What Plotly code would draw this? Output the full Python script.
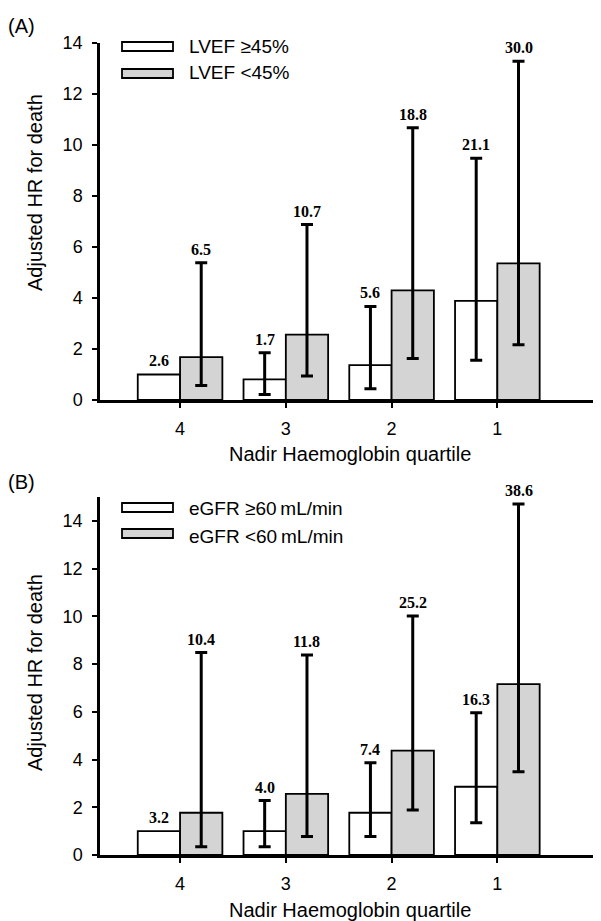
import plotly.graph_objects as go

W, H = 601, 921
PAGE_MARGIN = 8  # default <body> margin of the written page
FW, FH = W - PAGE_MARGIN, H - PAGE_MARGIN

quartiles = ["4", "3", "2", "1"]

# Panel A: LVEF
a_names = ["LVEF \u226545%", "LVEF <45%"]
a_hr_hi = [1.0, 0.81, 1.37, 3.89]
a_lo_hi = [None, 0.22, 0.44, 1.56]
a_up_hi = [None, 1.85, 3.67, 9.48]
a_lab_hi = ["2.6", "1.7", "5.6", "21.1"]
a_hr_lo = [1.68, 2.56, 4.30, 5.36]
a_lo_lo = [0.57, 0.94, 1.63, 2.17]
a_up_lo = [5.38, 6.88, 10.68, 13.28]
a_lab_lo = ["6.5", "10.7", "18.8", "30.0"]

# Panel B: eGFR
b_names = ["eGFR \u226560\u2009mL/min", "eGFR <60\u2009mL/min"]
b_hr_hi = [1.0, 1.0, 1.77, 2.86]
b_lo_hi = [None, 0.35, 0.77, 1.35]
b_up_hi = [None, 2.28, 3.87, 5.96]
b_lab_hi = ["3.2", "4.0", "7.4", "16.3"]
b_hr_lo = [1.77, 2.56, 4.37, 7.16]
b_lo_lo = [0.35, 0.77, 1.89, 3.49]
b_up_lo = [8.48, 8.38, 10.01, 14.71]
b_lab_lo = ["10.4", "11.8", "25.2", "38.6"]

y_ticks_a = [0, 2, 4, 6, 8, 10, 12, 14]
y_ticks_b = [0, 2, 4, 6, 8, 10, 12, 14]

x_title = "Nadir Haemoglobin quartile"
y_title = "Adjusted HR for death"

SANS = "Liberation Sans, Arial, sans-serif"
SERIF = "Liberation Serif, Times New Roman, serif"
GRAY = "#d4d4d4"
BARGAP = 0.2
OFF = (1 - BARGAP) / 4  # centre offset of each bar in a group of two


def px_x(p):
    return (p - PAGE_MARGIN) / FW


def px_y(p):
    return 1 - (p - PAGE_MARGIN) / FH


def err(vals, lo, up):
    # "NaN" (not null) makes plotly.js skip the error bar for that point
    plus = ["NaN" if u is None else u - v for v, u in zip(vals, up)]
    minus = ["NaN" if l is None else v - l for v, l in zip(vals, lo)]
    return dict(type="data", symmetric=False, array=plus, arrayminus=minus,
                color="black", thickness=3, width=6)


fig = go.Figure()
annotations = []
shapes = []

panels = [
    ("x", "y", a_names, a_hr_hi, a_lo_hi, a_up_hi, a_lab_hi,
     a_hr_lo, a_lo_lo, a_up_lo, a_lab_lo),
    ("x2", "y2", b_names, b_hr_hi, b_lo_hi, b_up_hi, b_lab_hi,
     b_hr_lo, b_lo_lo, b_up_lo, b_lab_lo),
]

for (xa, ya, names, hr1, lo1, up1, lab1, hr2, lo2, up2, lab2) in panels:
    fig.add_trace(go.Bar(x=quartiles, y=hr1, name=names[0], xaxis=xa, yaxis=ya,
                         marker=dict(color="white", line=dict(color="black", width=1.8)),
                         error_y=err(hr1, lo1, up1), showlegend=False))
    fig.add_trace(go.Bar(x=quartiles, y=hr2, name=names[1], xaxis=xa, yaxis=ya,
                         marker=dict(color=GRAY, line=dict(color="black", width=1.8)),
                         error_y=err(hr2, lo2, up2), showlegend=False))
    for i in range(len(quartiles)):
        for vals, up, labs, sgn in ((hr1, up1, lab1, -1), (hr2, up2, lab2, 1)):
            top = up[i] if up[i] is not None else vals[i]
            annotations.append(dict(
                x=i + sgn * OFF, y=top, xref=xa, yref=ya, text=labs[i],
                showarrow=False, xanchor="center", yanchor="bottom", yshift=3,
                font=dict(family=SERIF, size=16, color="black", weight="bold")))

axis_common = dict(showline=True, linecolor="black", linewidth=2.5,
                   ticks="outside", tickcolor="black", tickwidth=2,
                   showgrid=False, zeroline=False, automargin=False,
                   tickfont=dict(family=SANS, size=18, color="black"))

fig.update_layout(
    template="none",
    width=FW, height=FH, autosize=False,
    margin=dict(l=0, r=0, t=0, b=0, pad=0),
    paper_bgcolor="white", plot_bgcolor="white",
    barmode="group", bargap=BARGAP, bargroupgap=0,
    xaxis=dict(domain=[px_x(100), 1], anchor="y", type="category",
               range=[-0.757, 3.98], ticklen=5, ticklabelstandoff=6, **axis_common),
    yaxis=dict(domain=[px_y(400), px_y(43)], anchor="x", range=[0, 14],
               tickvals=y_ticks_a, ticklen=5, ticklabelstandoff=6, **axis_common),
    xaxis2=dict(domain=[px_x(100), 1], anchor="y2", type="category",
                range=[-0.757, 3.98], ticklen=5, ticklabelstandoff=6, **axis_common),
    yaxis2=dict(domain=[px_y(855), px_y(497)], anchor="x2", range=[0, 15],
                tickvals=y_ticks_b, ticklen=5, ticklabelstandoff=6, **axis_common),
)

# axis titles and panel labels
title_font = dict(family=SANS, size=20, color="black")
for label, ly, ty, xty in (("(A)", 26, 193, 454), ("(B)", 482, 673, 910)):
    annotations.append(dict(x=px_x(21), y=px_y(ly), xref="paper", yref="paper",
                            text=label, showarrow=False,
                            xanchor="center", yanchor="middle",
                            font=dict(family=SANS, size=20, color="black")))
    annotations.append(dict(x=px_x(35), y=px_y(ty), xref="paper", yref="paper",
                            text=y_title, showarrow=False, textangle=-90,
                            xanchor="center", yanchor="middle", font=title_font))
    annotations.append(dict(x=px_x(350), y=px_y(xty), xref="paper", yref="paper",
                            text=x_title, showarrow=False,
                            xanchor="center", yanchor="middle", font=title_font))

# custom legends (wide rectangle swatches)
legend_rows = [
    (a_names, [(42, 51, 47), (69, 78, 73)]),
    (b_names, [(503, 512, 508), (529, 538, 536)]),
]
for names, rows in legend_rows:
    for (y0, y1, yc), name, fill in zip(rows, names, ["white", GRAY]):
        shapes.append(dict(type="rect", xref="paper", yref="paper",
                           x0=px_x(122), x1=px_x(173), y0=px_y(y1), y1=px_y(y0),
                           fillcolor=fill, line=dict(color="black", width=1.8)))
        annotations.append(dict(x=px_x(187), y=px_y(yc), xref="paper", yref="paper",
                                text=name, showarrow=False,
                                xanchor="left", yanchor="middle",
                                font=dict(family=SANS, size=19, color="black")))

fig.update_layout(annotations=annotations, shapes=shapes)
fig.write_html("out.html")
